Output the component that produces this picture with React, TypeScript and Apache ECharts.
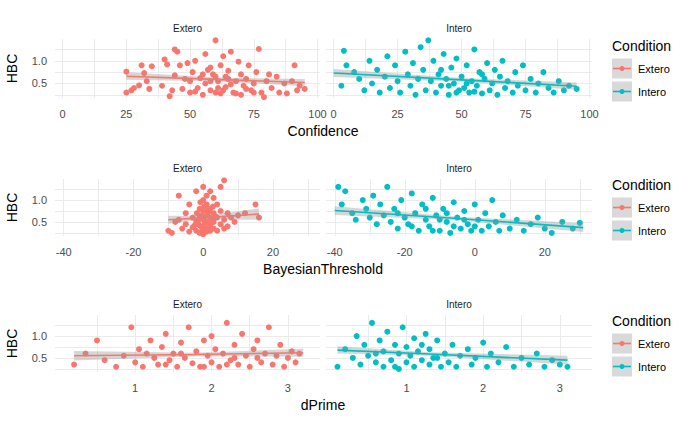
import React, { useEffect, useRef } from "react";
import * as echarts from "echarts";

const RED = "#F8766D";
const CYAN = "#00BFC4";

const conditions = ["Extero", "Intero"];
const xTitles = ["Confidence", "BayesianThreshold", "dPrime"];

// x ticks per row (major labels, minor grid)
const xMajor = [[0, 25, 50, 75, 100], [-40, -20, 0, 20], [1, 2, 3]];
const xMinor = [[12.5, 37.5, 62.5, 87.5], [-30, -10, 10, 30], [0.5, 1.5, 2.5]];
const xRange = [[-3, 101], [-42.5, 33.5], [-0.05, 3.42]];
const yMajor = [0.5, 1.0];
const yMinor = [0.25, 0.75, 1.25];

const confExtero = [[25,0.76],[25,0.3],[27,0.35],[28,0.4],[30,0.46],[31,0.9],[32,0.73],[33,0.55],[34,0.38],[35,0.88],[39,0.45],[40,1.03],[41,0.92],[42,0.22],[43,0.35],[44,1.25],[44,0.68],[45,1.2],[46,0.9],[47,0.38],[48,0.6],[49,0.95],[50,0.3],[50,0.55],[51,0.75],[52,1.0],[53,0.4],[54,0.62],[55,0.25],[56,1.15],[56,0.5],[57,0.8],[58,0.35],[59,0.7],[60,1.45],[60,0.3],[61,0.55],[62,0.9],[62,0.28],[63,1.1],[64,0.65],[64,0.42],[65,0.78],[66,1.2],[67,0.3],[68,0.55],[69,0.98],[70,0.7],[70,0.25],[71,0.45],[72,0.6],[73,0.9],[74,0.35],[75,0.5],[76,0.75],[77,1.26],[78,0.3],[79,0.2],[80,0.55],[81,0.7],[82,0.4],[84,0.65],[85,0.3],[87,0.5],[88,0.28],[90,0.55],[91,0.9],[92,0.35],[93,0.45],[95,0.38],[52,0.32],[55,0.7],[58,0.55],[60,0.65],[63,0.35],[66,0.48],[68,0.28],[72,0.38],[75,0.3],[58,0.85],[61,0.4],[65,0.6]];
const confIntero = [[3,0.45],[4,1.22],[5,0.9],[8,0.75],[10,0.6],[12,0.35],[14,1.0],[15,0.5],[17,0.8],[18,0.3],[20,0.65],[21,1.1],[22,0.4],[24,0.9],[25,0.55],[26,0.3],[28,1.2],[29,0.7],[30,0.45],[31,0.95],[32,0.25],[33,0.6],[34,1.3],[35,0.8],[36,0.35],[37,1.45],[38,0.55],[39,1.0],[40,0.3],[41,0.7],[42,0.45],[43,1.15],[44,0.6],[45,0.25],[46,0.85],[47,0.5],[48,1.05],[49,0.35],[50,0.65],[51,0.4],[52,0.9],[53,0.3],[54,0.55],[55,1.25],[56,0.45],[57,0.75],[58,0.28],[59,0.6],[60,0.95],[61,0.35],[62,0.5],[63,0.8],[64,0.25],[65,0.65],[66,1.0],[67,0.4],[68,0.55],[70,0.3],[71,0.75],[72,0.45],[74,0.9],[75,0.35],[77,0.6],[79,0.3],[80,0.5],[82,0.75],[84,0.4],[86,0.3],[88,0.55],[90,0.35],[92,0.45],[95,0.38],[45,0.45],[48,0.3],[52,0.5],[42,0.8],[55,0.32],[58,0.7]];
const bayesExtero = [[-10,0.3],[-9,0.25],[-8,0.5],[-7,1.1],[-7,0.55],[-6,0.35],[-5,0.7],[-5,0.45],[-4,0.28],[-4,0.9],[-3,0.6],[-3,0.38],[-2,1.2],[-2,0.5],[-2,0.3],[-1,0.8],[-1,0.6],[-1,0.42],[-1,0.25],[0,1.3],[0,1.0],[0,0.75],[0,0.55],[0,0.4],[0,0.3],[0,0.22],[1,0.9],[1,0.65],[1,0.5],[1,0.35],[1,0.28],[1,1.1],[2,0.8],[2,0.6],[2,0.45],[2,0.3],[2,1.2],[3,0.7],[3,0.5],[3,0.35],[3,1.05],[4,0.9],[4,0.6],[4,0.3],[5,0.75],[5,0.45],[5,1.3],[6,0.55],[6,0.35],[6,1.45],[7,0.7],[7,0.4],[8,0.6],[9,0.5],[10,0.65],[12,0.7],[15,0.9],[16,0.6],[-0.5,0.65],[0.5,0.48],[1.5,0.72],[-1.5,0.5],[2.5,0.55],[0.3,0.85],[-0.3,0.35],[-0.8,0.95],[0.8,0.78],[1.8,0.4],[-1.8,0.7],[2.8,0.85],[-2.5,0.42],[0.2,0.6],[1.2,0.32],[3.5,0.62]];
const bayesIntero = [[-39,1.3],[-38,0.9],[-37,1.2],[-35,0.7],[-34,0.55],[-32,1.0],[-31,0.8],[-30,0.6],[-29,1.1],[-28,0.45],[-27,0.9],[-26,0.65],[-25,1.3],[-24,0.5],[-23,0.8],[-22,0.35],[-21,1.0],[-20,0.6],[-19,0.45],[-18,1.15],[-17,0.7],[-16,0.3],[-15,0.9],[-14,0.55],[-13,0.4],[-12,1.05],[-11,0.65],[-10,0.3],[-9,0.8],[-8,0.5],[-7,0.25],[-6,0.95],[-5,0.6],[-4,0.35],[-3,0.75],[-2,0.45],[-1,0.3],[0,0.9],[1,0.55],[2,0.3],[3,0.7],[4,0.4],[5,1.0],[6,0.5],[7,0.3],[8,0.65],[10,0.35],[12,0.55],[14,0.3],[16,0.45],[18,0.6],[20,0.35],[22,0.25],[25,0.5],[28,0.35],[30,0.48],[-18,0.4],[-14,0.8],[-10,0.55],[-6,0.4],[-3,0.55],[0,0.4],[-22,0.7],[-12,0.3],[-8,0.7]];
const dprimeExtero = [[0.2,0.35],[0.35,0.6],[0.5,0.9],[0.6,0.45],[0.75,0.3],[0.85,0.55],[0.95,1.2],[1.0,0.4],[1.05,0.7],[1.1,0.3],[1.2,0.9],[1.25,0.5],[1.3,0.35],[1.35,0.75],[1.4,1.05],[1.45,0.45],[1.5,0.6],[1.55,0.3],[1.6,0.85],[1.65,0.5],[1.7,1.2],[1.75,0.38],[1.8,0.65],[1.85,0.3],[1.9,0.9],[1.95,0.55],[2.0,0.4],[2.0,1.0],[2.05,0.7],[2.1,0.3],[2.15,0.6],[2.2,1.3],[2.25,0.45],[2.3,0.8],[2.35,0.35],[2.4,1.05],[2.45,0.55],[2.5,0.3],[2.55,0.7],[2.6,0.9],[2.65,0.4],[2.7,0.6],[2.75,1.2],[2.8,0.35],[2.85,0.55],[2.9,0.8],[2.95,0.3],[3.0,0.5],[3.05,0.65],[3.1,0.4],[3.15,0.6],[1.15,0.6],[1.6,0.6],[2.3,0.5],[2.6,0.5],[1.9,0.3],[2.2,0.35],[1.4,0.35]];
const dprimeIntero = [[0.1,0.3],[0.2,0.7],[0.3,0.5],[0.35,1.0],[0.4,0.35],[0.45,0.8],[0.5,0.55],[0.55,1.3],[0.6,0.4],[0.65,0.9],[0.7,0.3],[0.7,0.65],[0.75,1.1],[0.8,0.45],[0.85,0.8],[0.85,0.3],[0.9,0.6],[0.95,1.2],[1.0,0.4],[1.0,0.75],[1.05,0.55],[1.1,0.95],[1.1,0.3],[1.15,0.65],[1.2,0.45],[1.25,1.05],[1.3,0.35],[1.3,0.7],[1.35,0.5],[1.4,0.9],[1.45,0.3],[1.5,0.6],[1.55,0.4],[1.6,0.8],[1.65,0.3],[1.7,0.55],[1.8,0.7],[1.85,0.35],[1.9,0.5],[2.0,0.85],[2.05,0.3],[2.1,0.6],[2.2,0.4],[2.3,0.75],[2.4,0.3],[2.5,0.5],[2.6,0.35],[2.7,0.6],[2.8,0.3],[2.9,0.45],[3.0,0.35],[3.1,0.3],[0.9,0.25],[1.2,0.8],[0.6,0.6],[1.4,0.5]];

// fitted line: [x, fit, lower, upper]
const fitConfExtero = [[25,0.66,0.58,0.75],[60,0.59,0.55,0.63],[95,0.52,0.44,0.6]];
const fitConfIntero = [[0,0.73,0.64,0.82],[50,0.58,0.54,0.62],[95,0.44,0.36,0.52]];
const fitBayesExtero = [[-10,0.55,0.46,0.64],[1,0.6,0.56,0.64],[16,0.68,0.55,0.81]];
const fitBayesIntero = [[-40,0.76,0.66,0.86],[-5,0.58,0.54,0.62],[31,0.37,0.27,0.47]];
const fitDprimeExtero = [[0.2,0.55,0.44,0.66],[1.8,0.58,0.54,0.62],[3.2,0.62,0.53,0.71]];
const fitDprimeIntero = [[0.1,0.68,0.6,0.77],[1.3,0.59,0.55,0.63],[3.1,0.45,0.35,0.55]];

const points = [[confExtero, confIntero], [bayesExtero, bayesIntero], [dprimeExtero, dprimeIntero]];
const fits = [[fitConfExtero, fitConfIntero], [fitBayesExtero, fitBayesIntero], [fitDprimeExtero, fitDprimeIntero]];

const FONT = "Liberation Sans, Arial, sans-serif";
const rowTop = [39, 179, 315];
const rowHeight = [59, 57, 57];
const colLeft = [55, 326];
const colWidth = [265, 266];
const GRID = "#ebebeb";

export default function App() {
  const ref = useRef<HTMLDivElement>(null);

  useEffect(() => {
    if (!ref.current) return;
    const chart = echarts.init(ref.current, null, { renderer: "svg" });

    const grid: any[] = [];
    const xAxis: any[] = [];
    const yAxis: any[] = [];
    const series: any[] = [];
    const graphic: any[] = [];

    for (let r = 0; r < 3; r++) {
      for (let c = 0; c < 2; c++) {
        const i = r * 2 + c;
        const color = c === 0 ? RED : CYAN;
        grid.push({ left: colLeft[c], top: rowTop[r], width: colWidth[c], height: rowHeight[r] });
        const xVals = [...xMajor[r], ...xMinor[r]].sort((a, b) => a - b);
        xAxis.push({
          type: "value", gridIndex: i, min: xRange[r][0], max: xRange[r][1],
          axisLine: { show: false }, axisTick: { show: false, customValues: xVals },
          axisLabel: { customValues: xMajor[r], color: "#4d4d4d", fontSize: 11, fontFamily: FONT, margin: 10 },
          splitLine: { lineStyle: { color: GRID } },
        });
        yAxis.push({
          type: "value", gridIndex: i, min: 0.18, max: 1.48,
          axisLine: { show: false }, axisTick: { show: false, customValues: [...yMinor, ...yMajor] },
          axisLabel: { show: c === 0, customValues: yMajor, color: "#4d4d4d", fontSize: 11, fontFamily: FONT,
            formatter: (v: number) => v.toFixed(1) },
          splitLine: { lineStyle: { color: GRID } },
        });
        const fit = fits[r][c];
        series.push({
          type: "scatter", xAxisIndex: i, yAxisIndex: i, data: points[r][c],
          symbolSize: 6, itemStyle: { color, opacity: 1 }, z: 2,
        });
        series.push({
          type: "custom", xAxisIndex: i, yAxisIndex: i, data: [[fit[0][0], fit[0][1]]], z: 3,
          renderItem: (_p: any, api: any) => {
            const up = fit.map((f) => api.coord([f[0], f[3]]));
            const lo = fit.map((f) => api.coord([f[0], f[2]])).reverse();
            return { type: "polygon", shape: { points: [...up, ...lo] }, style: { fill: "#999999", opacity: 0.4 } };
          },
        });
        series.push({
          type: "line", xAxisIndex: i, yAxisIndex: i, data: fit.map((f) => [f[0], f[1]]),
          showSymbol: false, lineStyle: { color, width: 1.6 }, z: 4,
        });
        graphic.push({
          type: "text", x: colLeft[c] + colWidth[c] / 2, y: rowTop[r] - 16,
          style: { text: conditions[c], fill: "#1a1a1a", font: `10px ${FONT}`, align: "center" },
        });
      }
      const mid = rowTop[r] + rowHeight[r] / 2;
      graphic.push({
        type: "text", x: 12, y: mid, rotation: Math.PI / 2,
        style: { text: "HBC", fill: "#000", font: `14px ${FONT}`, align: "center", verticalAlign: "middle" },
      });
      graphic.push({
        type: "text", x: 323, y: rowTop[r] + rowHeight[r] + 26,
        style: { text: xTitles[r], fill: "#000", font: `14px ${FONT}`, align: "center" },
      });
      const ly = mid - 30;
      graphic.push({ type: "text", x: 612, y: ly, style: { text: "Condition", fill: "#000", font: `14px ${FONT}` } });
      conditions.forEach((name, k) => {
        const ky = ly + 20 + k * 23;
        const color = k === 0 ? RED : CYAN;
        graphic.push({ type: "rect", shape: { x: 612, y: ky, width: 20, height: 20 }, style: { fill: "#d9d9d9" } });
        graphic.push({ type: "line", shape: { x1: 613, y1: ky + 10, x2: 631, y2: ky + 10 }, style: { stroke: color, lineWidth: 1.6 } });
        graphic.push({ type: "circle", shape: { cx: 622, cy: ky + 10, r: 2.5 }, style: { fill: color } });
        graphic.push({ type: "text", x: 638, y: ky + 10, style: { text: name, fill: "#000", font: `11px ${FONT}`, verticalAlign: "middle" } });
      });
    }

    chart.setOption({ animation: false, backgroundColor: "#fff", grid, xAxis, yAxis, series, graphic });
    return () => chart.dispose();
  }, []);

  return <div ref={ref} style={{ width: 700, height: 432, position: "absolute", left: 0, top: 0 }} />;
}
